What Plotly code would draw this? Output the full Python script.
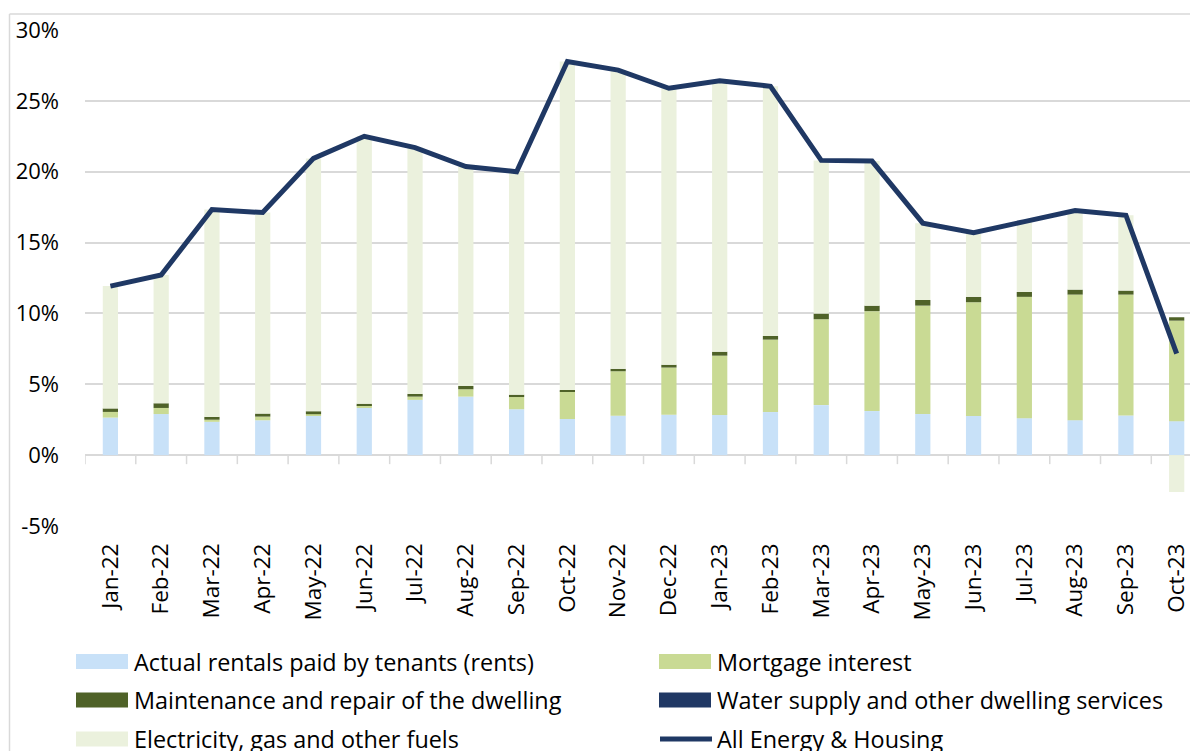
import plotly.graph_objects as go

months = ["Jan-22", "Feb-22", "Mar-22", "Apr-22", "May-22", "Jun-22", "Jul-22", "Aug-22",
          "Sep-22", "Oct-22", "Nov-22", "Dec-22", "Jan-23", "Feb-23", "Mar-23", "Apr-23",
          "May-23", "Jun-23", "Jul-23", "Aug-23", "Sep-23", "Oct-23"]

rents = [2.65, 2.90, 2.35, 2.46, 2.77, 3.33, 3.90, 4.13, 3.24, 2.55, 2.78, 2.85,
         2.83, 3.04, 3.53, 3.11, 2.90, 2.76, 2.61, 2.47, 2.80, 2.40]
mortgage = [0.40, 0.43, 0.15, 0.26, 0.12, 0.20, 0.23, 0.52, 0.86, 1.95, 3.14, 3.33,
            4.19, 5.11, 6.06, 7.05, 7.65, 8.03, 8.56, 8.86, 8.53, 7.09]
maintenance = [0.25, 0.33, 0.20, 0.21, 0.21, 0.10, 0.19, 0.23, 0.17, 0.10, 0.17, 0.20,
               0.28, 0.26, 0.40, 0.39, 0.40, 0.38, 0.35, 0.35, 0.28, 0.24]
water = [0.0, 0.0, 0.0, 0.0, 0.0, 0.0, 0.0, 0.0, 0.0, 0.0, 0.0, 0.0,
         0.0, 0.0, 0.0, 0.0, 0.0, 0.0, 0.0, 0.0, 0.0, 0.0]
electricity = [8.63, 9.05, 14.63, 14.19, 17.84, 18.87, 17.38, 15.49, 15.73, 23.18, 21.08, 19.51,
               19.11, 17.62, 10.81, 10.20, 5.42, 4.53, 4.96, 5.58, 5.32, -2.60]
all_energy_housing = [11.93, 12.71, 17.33, 17.12, 20.94, 22.50, 21.70, 20.37, 20.00, 27.78, 27.17, 25.89,
                      26.41, 26.03, 20.80, 20.75, 16.37, 15.70, 16.48, 17.26, 16.93, 7.16]

y_tickvals = [-5, 0, 5, 10, 15, 20, 25, 30]
y_ticktext = ["-5%", "0%", "5%", "10%", "15%", "20%", "25%", "30%"]

series_names = ["Actual rentals paid by tenants (rents)", "Mortgage interest",
                "Maintenance and repair of the dwelling", "Water supply and other dwelling services",
                "Electricity, gas and other fuels", "All Energy & Housing"]

C_RENTS = "#C8E1F8"
C_MORT = "#C9DA94"
C_MAINT = "#4F6228"
C_WATER = "#203864"
C_ELEC = "#EBF1DD"
C_LINE = "#1F3864"
GRID = "#D9D9D9"
FONT = "Open Sans"

# the page body has an 8px default margin; lay out in screen pixels and shift
OFF = 8
W, H = 1198 - OFF, 751 - OFF
ML, MR, MT, MB = 85 - OFF, 0, 30 - OFF, 751 - 526
PW, PH = W - ML - MR, H - MT - MB

fig = go.Figure()
for vals, name, col in [(rents, series_names[0], C_RENTS), (mortgage, series_names[1], C_MORT),
                        (maintenance, series_names[2], C_MAINT), (water, series_names[3], C_WATER),
                        (electricity, series_names[4], C_ELEC)]:
    fig.add_trace(go.Bar(x=months, y=vals, name=name, marker=dict(color=col, line=dict(width=0)),
                         showlegend=False))
fig.add_trace(go.Scatter(x=months, y=all_energy_housing, name=series_names[5], mode="lines",
                         line=dict(color=C_LINE, width=5), showlegend=False))


def px(x):
    return (x - OFF - ML) / PW


def py(y):
    return (H - MB - (y - OFF)) / PH


shapes = []
# category-axis tick marks at the zero line (category boundaries)
for i in range(len(months) + 1):
    shapes.append(dict(type="line", xref="x", yref="y", x0=i - 0.5, x1=i - 0.5,
                       ysizemode="pixel", yanchor=0, y0=0, y1=-9,
                       line=dict(color=GRID, width=1.5)))
# chart border (left and top edges)
shapes.append(dict(type="line", xref="paper", yref="paper", x0=px(9.5), x1=px(1300),
                   y0=py(14), y1=py(14), line=dict(color=GRID, width=1.5)))
shapes.append(dict(type="line", xref="paper", yref="paper", x0=px(9.5), x1=px(9.5),
                   y0=py(14), y1=py(800), line=dict(color=GRID, width=1.5)))

# manual legend
legend_items = [
    (0, 0, C_RENTS, "bar"), (1, 0, C_MORT, "bar"),
    (0, 1, C_MAINT, "bar"), (1, 1, C_WATER, "bar"),
    (0, 2, C_ELEC, "bar"), (1, 2, C_LINE, "line"),
]
col_x = [76, 659]
row_y = [661.5, 700, 739]
annotations = []
for idx, (c, r, colr, kind) in enumerate(legend_items):
    x0 = col_x[c]
    x1 = x0 + 52
    yc = row_y[r]
    if kind == "bar":
        shapes.append(dict(type="rect", xref="paper", yref="paper", x0=px(x0), x1=px(x1),
                           y0=py(yc - 7.5), y1=py(yc + 7.5), fillcolor=colr, line=dict(width=0)))
    else:
        shapes.append(dict(type="line", xref="paper", yref="paper", x0=px(x0 + 1), x1=px(x1 + 1),
                           y0=py(yc), y1=py(yc), line=dict(color=colr, width=5)))
    annotations.append(dict(text=series_names[idx], xref="paper", yref="paper",
                            x=px(x1 + 4), y=py(yc), xanchor="left", yanchor="middle",
                            showarrow=False, font=dict(family=FONT, size=23.4, color="#000000")))

fig.update_layout(
    width=W, height=H,
    margin=dict(l=ML, r=MR, t=MT, b=MB, pad=0),
    barmode="relative", bargap=0.7,
    plot_bgcolor="white", paper_bgcolor="white",
    showlegend=False,
    font=dict(family=FONT, size=22, color="#000000"),
    xaxis=dict(range=[-0.5, 21.42], tickangle=-90, showgrid=False, showline=False,
               ticks="", tickfont=dict(family=FONT, size=22.5, color="#000000"),
               ticklabelstandoff=12),
    yaxis=dict(range=[-5, 30], tickvals=y_tickvals, ticktext=y_ticktext, showgrid=True,
               gridcolor=GRID, gridwidth=1.5, zeroline=True, zerolinecolor=GRID, zerolinewidth=1.5,
               showline=False, ticks="", tickfont=dict(family=FONT, size=22, color="#000000"),
               ticklabelstandoff=25),
    shapes=shapes, annotations=annotations,
)

fig.write_html("out.html")
